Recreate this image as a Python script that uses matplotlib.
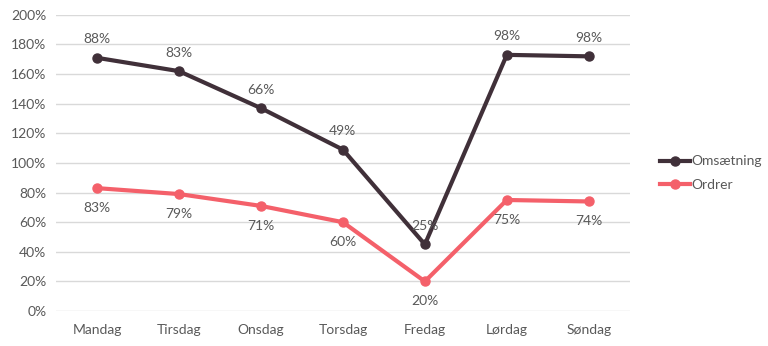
import matplotlib
matplotlib.use("Agg")
import matplotlib.pyplot as plt
import numpy as np

days = ["Mandag", "Tirsdag", "Onsdag", "Torsdag", "Fredag", "Lørdag", "Søndag"]
ordrer = [83, 79, 71, 60, 20, 75, 74]
omsaetning = [88, 83, 66, 49, 25, 98, 98]
yticks = [0, 20, 40, 60, 80, 100, 120, 140, 160, 180, 200]

DARK = "#403039"
RED = "#f4606a"
GREY = "#595959"

plt.rcParams["font.family"] = ["Lato", "DejaVu Sans"]

fig = plt.figure(figsize=(7.68, 3.46), dpi=100)
ax = fig.add_axes([0.073, 0.101, 0.747, 0.856])

x = np.arange(len(days))
# stacked lines: Omsætning sits on top of Ordrer
top = np.array(ordrer) + np.array(omsaetning)

ax.plot(x, top, color=DARK, lw=3, marker="o", ms=6.5, label="Omsætning",
        solid_joinstyle="round", zorder=3)
ax.plot(x, ordrer, color=RED, lw=3, marker="o", ms=6.5, label="Ordrer",
        solid_joinstyle="round", zorder=3)

for i in range(len(days)):
    ax.annotate(f"{omsaetning[i]}%", (x[i], top[i]), xytext=(0, 9),
                textcoords="offset points", ha="center", va="bottom",
                fontsize=10, color=GREY)
    ax.annotate(f"{ordrer[i]}%", (x[i], ordrer[i]), xytext=(0, -10),
                textcoords="offset points", ha="center", va="top",
                fontsize=10, color=GREY)

ax.set_xlim(-0.5, len(days) - 0.5)
ax.set_ylim(0, 200)
ax.set_yticks(yticks)
ax.set_yticklabels([f"{v}%" for v in yticks])
ax.set_xticks(x)
ax.set_xticklabels(days)
ax.tick_params(length=0, labelsize=10, colors=GREY)
ax.tick_params(axis="x", pad=9)
ax.tick_params(axis="y", pad=7)
ax.grid(axis="y", color="#d9d9d9", lw=1)
ax.set_axisbelow(True)
for s in ax.spines.values():
    s.set_visible(False)

fig.legend(loc="center left", bbox_to_anchor=(0.843, 0.50), frameon=False,
           fontsize=10, labelcolor=GREY, handlelength=2.2, handletextpad=0.1,
           labelspacing=0.8)

fig.savefig("out.png", dpi=100)
